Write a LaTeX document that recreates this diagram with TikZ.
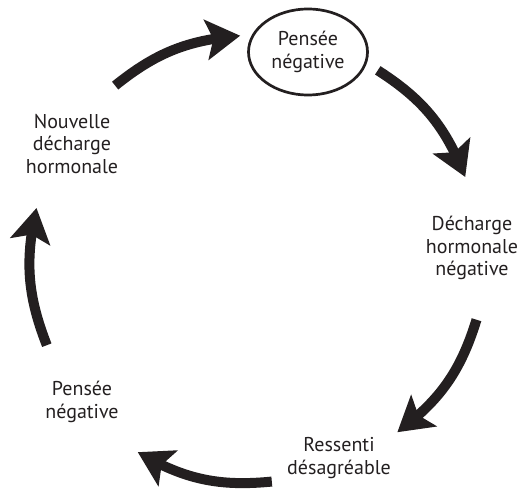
\documentclass[tikz,border=0pt]{standalone}
\usepackage{fontspec}
\setmainfont{PT Sans}
\usepackage{tikz}
\usetikzlibrary{arrows.meta,bending,calc,shapes.geometric}
\definecolor{Ink}{HTML}{231F20}

\begin{document}
\begin{tikzpicture}[x=1pt,y=1pt,font=\fontsize{20}{22.5}\selectfont,text=Ink,
    lbl/.style={align=center,inner sep=0pt},
    cyc/.style={draw=Ink,line width=10pt,-{Stealth[length=34pt,width=40pt,inset=7pt]}}]
  \useasboundingbox (0,0) rectangle (521,491);
  \coordinate (O) at (258,229);
  % the five steps of the loop
  \node[lbl,draw=Ink,line width=2.7pt,ellipse,minimum width=119pt,minimum height=86pt] (pens1) at (308,439) {Pensée\\négative};
  \node[lbl] (decharge) at (472,243) {Décharge\\hormonale\\négative};
  \node[lbl] (ressenti) at (339,33) {Ressenti\\désagréable};
  \node[lbl] (pens2) at (82,89) {Pensée\\négative};
  \node[lbl] (nouvelle) at (72,347) {Nouvelle\\décharge\\hormonale};
  % arrow ends on the circle
  \coordinate (s1) at ($(O)+(129:227)$);   \coordinate (e1) at ($(O)+(94.5:227)$);
  \coordinate (s2) at ($(O)+(58:226)$);    \coordinate (e2) at ($(O)+(22.3:224)$);
  \coordinate (s3) at ($(O)+(-14.8:226)$); \coordinate (e3) at ($(O)+(-50.7:220)$);
  \coordinate (s4) at ($(O)+(-86.4:220)$); \coordinate (e4) at ($(O)+(-122.3:225)$);
  \coordinate (s5) at ($(O)+(201.5:227)$); \coordinate (e5) at ($(O)+(166.3:228)$);
  \draw[cyc] (s1) to[bend left=17] (e1);
  \draw[cyc] (s2) to[bend left=18] (e2);
  \draw[cyc] (s3) to[bend left=18] (e3);
  \draw[cyc] (s4) to[bend left=18] (e4);
  \draw[cyc] (s5) to[bend left=17] (e5);
\end{tikzpicture}
\end{document}
